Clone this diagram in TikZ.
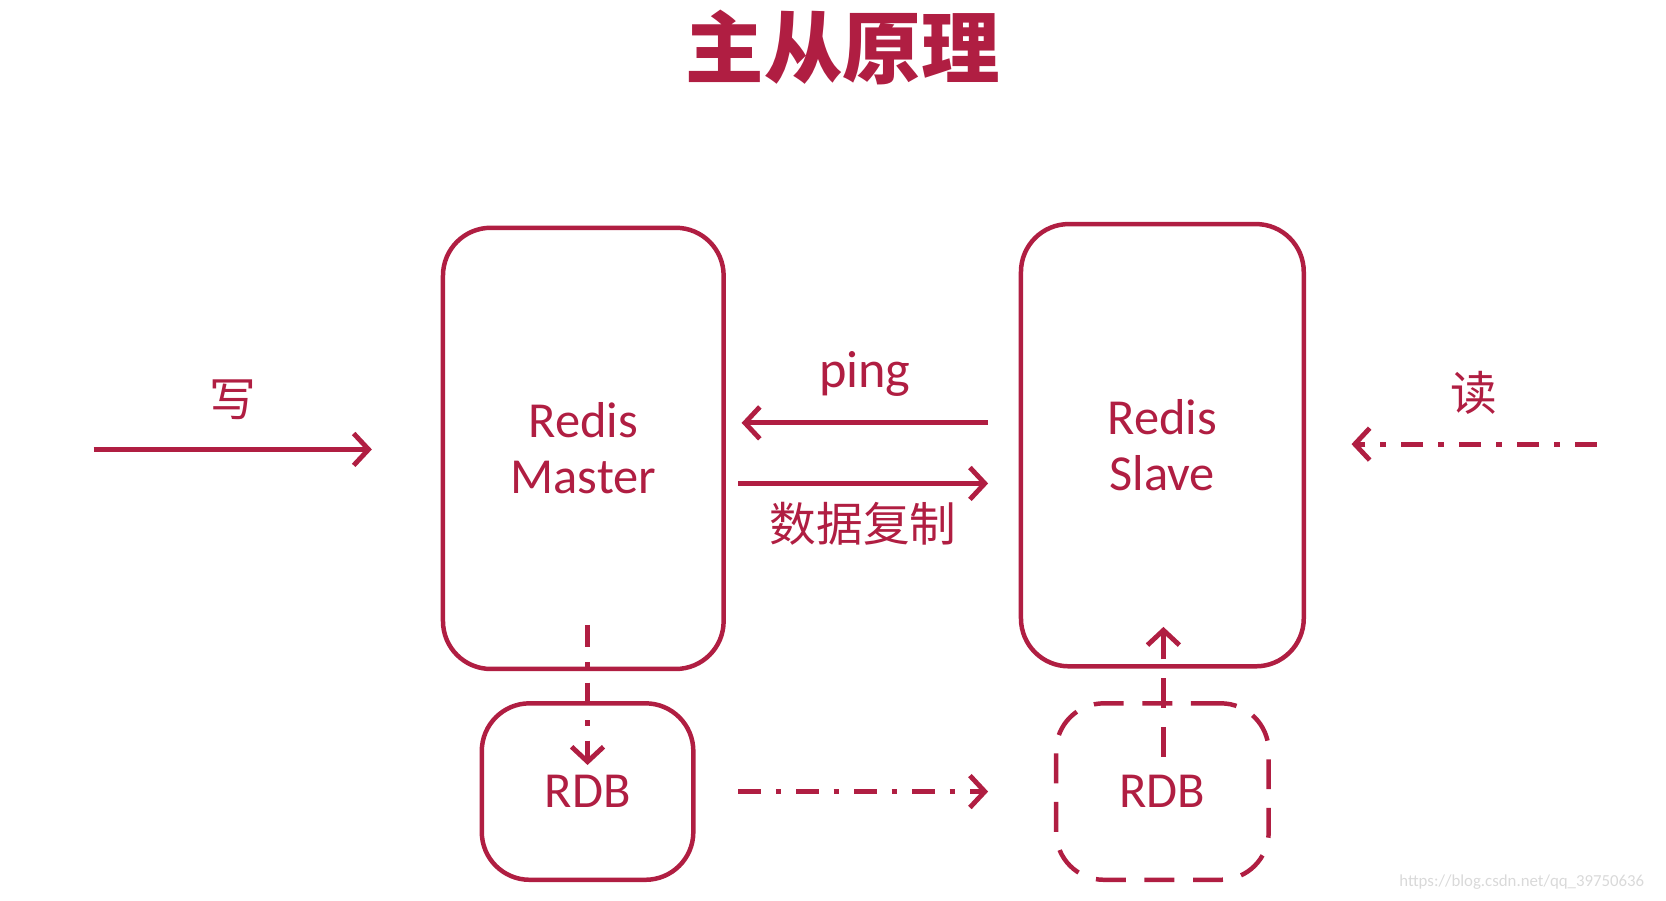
\documentclass[tikz,border=0pt]{standalone}
\usepackage{fontspec}
\setmainfont{Carlito}
\newfontfamily\cjk{Noto Sans CJK SC}
\usetikzlibrary{arrows.meta,positioning}
\definecolor{redisred}{HTML}{B01E42}
\begin{document}
\begin{tikzpicture}[x=0.01cm,y=-0.01cm,
  box/.style={draw=redisred, line width=1.2pt, rounded corners=0.45cm, align=center,
    text=redisred, font=\fontsize{13.5}{15}\selectfont},
  flow/.style={draw=redisred, line width=1.3pt, -{Straight Barb[length=1.4mm,width=3mm]}},
  dashdot/.style={flow, dash pattern=on 6pt off 4pt on 1.5pt off 4pt},
  lbl/.style={text=redisred, font=\cjk\fontsize{12.5}{14}\selectfont}]
  \useasboundingbox (0,0) rectangle (1568,848);
  % title
  \node[text=redisred, font=\cjk\bfseries\fontsize{21}{24}\selectfont] (title) at (793,45) {主从原理};
  % boxes
  \node[box, minimum width=2.64cm, minimum height=4.15cm] (master) at (549,422) {Redis\\Master};
  \node[box, minimum width=2.66cm, minimum height=4.16cm] (slave) at (1094,419) {Redis\\Slave};
  \node[box, minimum width=1.99cm, minimum height=1.66cm] (rdbm) at (553,745) {RDB};
  \node[box, dashed, dash pattern=on 8pt off 5pt, minimum width=2.0cm, minimum height=1.66cm] (rdbs) at (1094,745) {RDB};
  % free ends
  \coordinate (wA) at (88,423);  \coordinate (wB) at (350,423);
  \coordinate (pA) at (930,398); \coordinate (pB) at (698,398);
  \coordinate (dA) at (695,455); \coordinate (dB) at (930,455);
  \coordinate (rA) at (1503,418); \coordinate (rB) at (1272,418);
  \coordinate (mA) at (553,588); \coordinate (mB) at (553,720);
  \coordinate (sA) at (1095,712); \coordinate (sB) at (1095,590);
  \coordinate (cA) at (695,745); \coordinate (cB) at (930,745);
  % connectors
  \draw[flow] (wA) -- (wB) node[midway, above=4pt, lbl] (write) {写};
  \draw[flow] (pA) -- (pB) node[midway, above=3pt, text=redisred, font=\fontsize{14}{16}\selectfont] (ping) {ping};
  \draw[flow] (dA) -- (dB) node[midway, below=1pt, lbl] (copy) {数据复制};
  \draw[dashdot] (rA) -- (rB) node[midway, above=4pt, lbl] (read) {读};
  \draw[dashdot] (mA) -- (mB);
  \draw[flow, dash pattern=on 8pt off 5pt] (sA) -- (sB);
  \draw[dashdot] (cA) -- (cB);
  \node[text=black!15, font=\fontsize{4.5}{5}\selectfont, anchor=east] (mark) at (1560,830) {https://blog.csdn.net/qq\_39750636};
\end{tikzpicture}
\end{document}
